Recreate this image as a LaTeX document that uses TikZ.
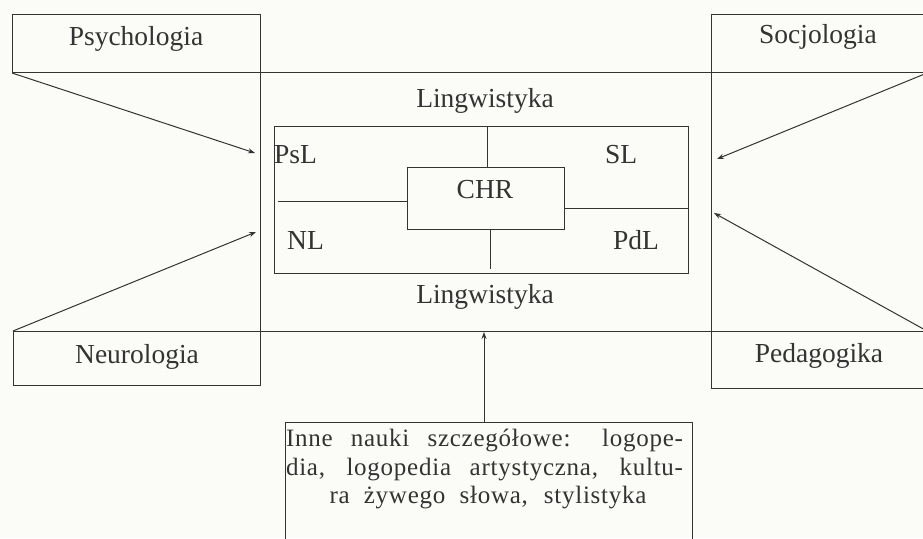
\documentclass[tikz,border=0pt]{standalone}
\usepackage{fontspec}
\setmainfont{Liberation Serif}
\newfontfamily\spacedfont[LetterSpace=3]{Liberation Serif}
\usetikzlibrary{arrows.meta}
\definecolor{ink}{HTML}{333333}
\definecolor{paper}{HTML}{FBFBF8}
\begin{document}
\begin{tikzpicture}[x=1pt,y=-1pt,
  box/.style={draw=ink, line width=1pt, inner sep=0pt, anchor=north west},
  lbl/.style={font=\fontsize{27.5}{30}\selectfont, text=ink, inner sep=0pt, anchor=base},
  lblw/.style={lbl, anchor=base west},
  small/.style={font=\spacedfont\fontsize{25}{28.5}\selectfont, text=ink, inner sep=0pt, anchor=base},
  conn/.style={draw=ink, line width=1pt},
  arr/.style={conn, -{Stealth[length=7pt,width=5pt]}}]
\clip (0,0) rectangle (923,538);
\fill[paper] (0,0) rectangle (923,538);
% boxes
\node[box, minimum width=248pt, minimum height=58pt] (psy) at (12,14) {};
\node[box, minimum width=215pt, minimum height=58pt] (soc) at (711,14) {};
\node[box, minimum width=247pt, minimum height=54pt] (neu) at (13,331) {};
\node[box, minimum width=215pt, minimum height=57pt] (ped) at (711,331) {};
\node[box, minimum width=451pt, minimum height=259pt] (ling) at (260,72) {};
\node[box, minimum width=414pt, minimum height=147pt] (inner) at (274,126) {};
\node[box, minimum width=157pt, minimum height=62pt] (chr) at (407,167) {};
\node[box, minimum width=407pt, minimum height=140pt] (other) at (285,422) {};
% labels
\node[lbl] (psyL) at (136,45) {Psychologia};
\node[lbl] (socL) at (818,43) {Socjologia};
\node[lbl] (neuL) at (137,363) {Neurologia};
\node[lbl] (pedL) at (819,362) {Pedagogika};
\node[lbl] (lingT) at (485,107) {Lingwistyka};
\node[lbl] (lingB) at (485,303) {Lingwistyka};
\node[lbl] (chrL) at (485,198) {CHR};
\node[lblw] (psl) at (274,163) {PsL};
\node[lblw] (sl) at (605,163) {SL};
\node[lblw] (nl) at (287,249) {NL};
\node[lblw] (pdl) at (613,249) {PdL};
\node[small] (o1) at (484.5,446) {\makebox[397pt][s]{Inne nauki szczegółowe: logope-}};
\node[small] (o2) at (484.5,475) {\makebox[397pt][s]{dia, logopedia artystyczna, kultu-}};
\node[small] (o3) at (488,503) {\makebox[317pt][s]{ra żywego słowa, stylistyka}};
% coordinates for free ends
\coordinate (psyT) at (255,153);
\coordinate (neuT) at (256,232);
\coordinate (socT) at (717,159);
\coordinate (pedT) at (714,213);
\coordinate (botT) at (484,332);
\coordinate (lTop) at (487,126);
\coordinate (lLeft) at (278,201);
\coordinate (lRight) at (688,208);
\coordinate (lBot) at (490,269);
% arrows
\draw[arr] (psy.south west) -- (psyT);
\draw[arr] (neu.north west) -- (neuT);
\draw[arr] (soc.south east) -- (socT);
\draw[arr] (ped.north east) -- (pedT);
\draw[arr] (botT |- other.north) -- (botT);
% inner dividers
\draw[conn] (lTop) -- (lTop |- chr.north);
\draw[conn] (lLeft) -- (chr.west |- lLeft);
\draw[conn] (chr.east |- lRight) -- (lRight);
\draw[conn] (lBot |- chr.south) -- (lBot);
\end{tikzpicture}
\end{document}
